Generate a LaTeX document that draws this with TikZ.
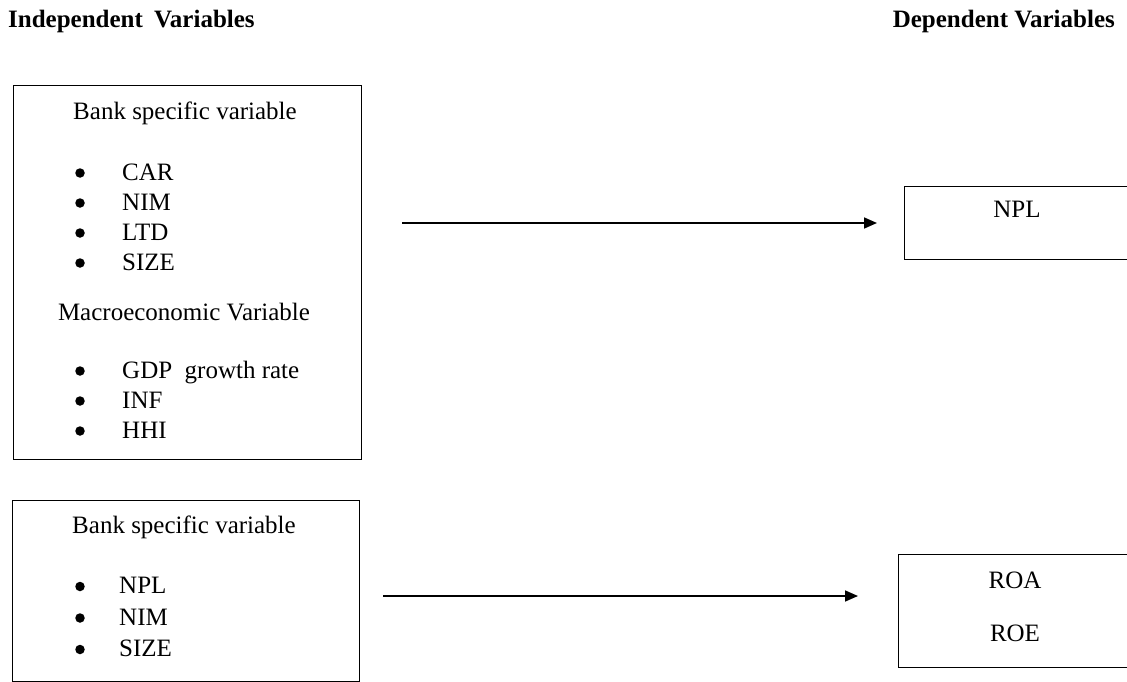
\documentclass[tikz,border=0pt]{standalone}
\usepackage{fontspec}
\setmainfont{Liberation Serif}
\usetikzlibrary{arrows.meta}

\begin{document}
\begin{tikzpicture}[x=1pt,y=-1pt,
    every node/.style={font=\fontsize{25}{30}\selectfont, inner sep=0pt},
    box/.style={draw, line width=1.4pt, anchor=north west},
    head/.style={font=\fontsize{25}{30}\selectfont\bfseries, anchor=base west},
    title/.style={anchor=base},
    item/.style={anchor=base west},
    dot/.style={circle, fill, minimum size=9.5pt},
    link/.style={line width=1.6pt, -{Triangle[length=13pt,width=11pt]}}]
    \useasboundingbox (0,0) rectangle (1127,682);

    \node[head] (indep) at (8,28) {Independent\hspace{0.45em}Variables};
    \node[head, anchor=base east] (dep) at (1115,28) {Dependent Variables};

    \node[box, minimum width=348pt, minimum height=374pt] (box1) at (13,85) {};
    \node[box, minimum width=347pt, minimum height=181pt] (box2) at (12,500) {};
    \node[box, minimum width=260pt, minimum height=73pt] (npl) at (904,186) {};
    \node[box, minimum width=260pt, minimum height=113pt] (roa) at (898,554) {};

    \node[title] (bank1) at (185,120) {Bank specific variable};
    \foreach \v [count=\i] in {CAR,NIM,LTD,SIZE}
        {\node[dot] at (80,143+30*\i) {};
         \node[item] at (122,150+30*\i) {\v};}
    \node[title] (macro) at (184,320) {Macroeconomic Variable};
    \foreach \v [count=\i] in {GDP\ \ growth rate,INF,HHI}
        {\node[dot] at (80,341+30*\i) {};
         \node[item] at (122,348+30*\i) {\v};}

    \node[title] (bank2) at (184,533) {Bank specific variable};
    \foreach \v [count=\i] in {NPL,NIM,SIZE}
        {\node[dot] at (80,555+31.5*\i) {};
         \node[item] at (119,562+31.5*\i) {\v};}

    \node[title] (npltxt) at (1017,217) {NPL};
    \node[title] (roatxt) at (1015,588) {ROA};
    \node[title] (roetxt) at (1015,641) {ROE};

    \coordinate (s1) at (402,223);
    \coordinate (e1) at (877,223);
    \coordinate (s2) at (383,596);
    \coordinate (e2) at (858,596);
    \draw[link] (s1) -- (e1);
    \draw[link] (s2) -- (e2);
\end{tikzpicture}
\end{document}
